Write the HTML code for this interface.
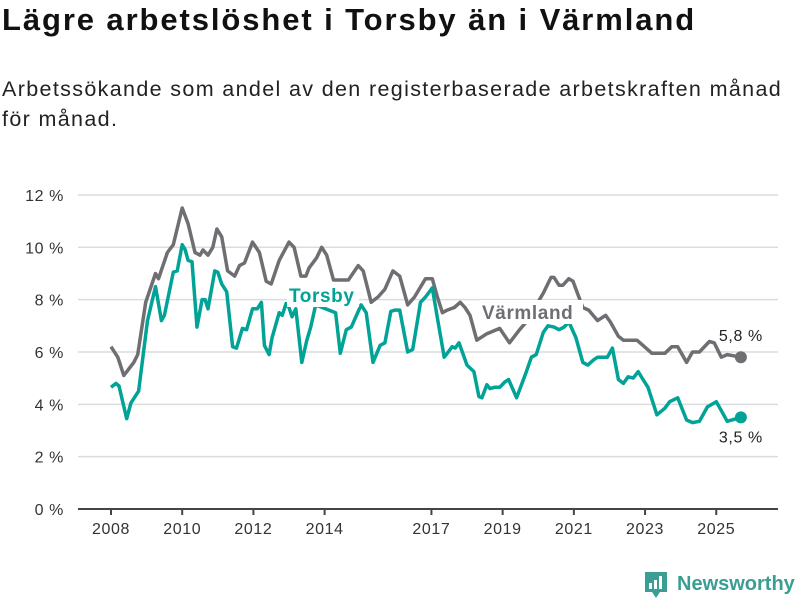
<!DOCTYPE html>
<html><head><meta charset="utf-8">
<style>
body{margin:0;background:#fff;font-family:"Liberation Sans","DejaVu Sans",sans-serif;}
#wrap{position:relative;width:800px;height:600px;overflow:hidden;}
h1{position:absolute;left:2px;top:2px;margin:0;font-size:31px;font-weight:bold;color:#111;letter-spacing:1.9px;white-space:nowrap;}
p.sub{position:absolute;left:2px;top:74px;margin:0;font-size:21.5px;line-height:30px;color:#222;width:798px;letter-spacing:1.35px;white-space:nowrap;}
svg{position:absolute;left:0;top:0;}
</style></head><body>
<div id="wrap">
<h1>Lägre arbetslöshet i Torsby än i Värmland</h1>
<p class="sub">Arbetssökande som andel av den registerbaserade arbetskraften månad<br>för månad.</p>
<svg id="chart" width="800" height="600"></svg>
</div>
<script>
// months since Jan 2008
const varmMonths=[0,2.3,4.3,7.7,9,11.7,15,16,19,21,24,26,28.3,30,31,32.7,34.3,35.7,37.3,39.3,41.7,43.3,45,47.7,50,52.3,54,56.7,60,61.7,64,65.7,66.7,69.3,71,72.7,75,80,83.3,85,87.7,90,92.3,95,97.3,100,102.3,106,108.3,110,111.7,113.3,115.7,117.7,119.3,121,123.3,126.7,131,134.3,137.7,140,145.7,148.3,149.3,151,152.3,154.3,155.7,159,161,164,166.7,168.3,171,172.7,175.7,177.3,179.3,182.3,186.7,189,191,194,196,198.3,201.7,203.3,205.7,207.7,212.3];
const varmValues=[6.2,5.8,5.1,5.6,5.9,7.9,9.0,8.8,9.8,10.1,11.5,10.9,9.8,9.7,9.9,9.7,10.0,10.7,10.4,9.1,8.9,9.3,9.4,10.2,9.8,8.7,8.6,9.5,10.2,10.0,8.9,8.9,9.2,9.6,10.0,9.7,8.75,8.75,9.3,9.1,7.9,8.1,8.4,9.1,8.9,7.8,8.1,8.8,8.8,8.1,7.5,7.6,7.7,7.9,7.7,7.4,6.45,6.7,6.9,6.35,6.85,7.15,8.25,8.85,8.85,8.55,8.55,8.8,8.7,7.7,7.6,7.2,7.4,7.15,6.6,6.45,6.45,6.45,6.25,5.95,5.95,6.2,6.2,5.6,6.0,6.0,6.4,6.35,5.8,5.9,5.8];
const torsMonths=[0,1.7,2.7,5.3,6.7,9.3,12.3,15,17,18,21,22.3,24,25,26,27.3,29,30.7,31.7,32.7,35,36,37.3,39,41,42.3,44.3,45.7,47.7,49.3,50.7,51.7,53.3,54.3,56.7,57.7,59,60,61,62.3,64.3,66,67.3,69,75.7,77.3,79.3,81,84.3,86,88.3,90.7,92.3,94.3,95.7,97.3,100,101.7,104.3,106,108.3,110,112.3,113.3,115,116,117.3,120,122.3,124,125,126.7,127.7,129.3,131,132.7,134,136.7,140,141.7,143.3,145.7,147.3,149.3,151,152.7,154.3,156.7,159,160.7,162.7,164,167.3,169,171,172.7,174.3,176,177.7,179.3,181,184,186.7,188.3,191,194,196,198.3,201,204,206,207.7,212.3];
const torsValues=[4.65,4.8,4.7,3.45,4.05,4.5,7.2,8.5,7.2,7.4,9.05,9.1,10.1,9.9,9.5,9.45,6.95,8.0,8.0,7.65,9.1,9.05,8.6,8.3,6.2,6.15,6.9,6.85,7.65,7.65,7.9,6.25,5.9,6.55,7.5,7.4,7.85,7.7,7.35,7.65,5.6,6.45,6.95,7.8,7.5,5.95,6.85,6.95,7.8,7.5,5.6,6.25,6.35,7.55,7.6,7.6,6.0,6.1,7.9,8.1,8.45,7.3,5.8,5.95,6.2,6.15,6.35,5.5,5.25,4.3,4.25,4.75,4.6,4.65,4.65,4.85,4.95,4.25,5.25,5.8,5.9,6.75,7.0,6.95,6.85,6.95,7.15,6.55,5.6,5.5,5.7,5.8,5.8,6.15,4.95,4.8,5.05,5.0,5.25,4.95,4.65,3.6,3.85,4.1,4.25,3.4,3.3,3.35,3.9,4.1,3.7,3.35,3.5];
const yTicks=[0,2,4,6,8,10,12];
const xTickYears=[2008,2010,2012,2014,2017,2019,2021,2023,2025];

const svg=document.getElementById('chart');
const NS='http://www.w3.org/2000/svg';
const xS=m=>111+m*2.967;
const xYear=y=>xS((y-2008)*12);
const yS=v=>509-v*26.17;
function mk(tag,attrs,parent){const e=document.createElementNS(NS,tag);for(const k in attrs)e.setAttribute(k,attrs[k]);(parent||svg).appendChild(e);return e;}

yTicks.forEach(t=>{
  if(t>0){const g=mk('line',{x1:78,x2:778,y1:yS(t),y2:yS(t),stroke:'#dcdcdc','stroke-width':1.5});
  
  }
  const tx=mk('text',{x:64,y:yS(t)+6,'text-anchor':'end','font-size':16,fill:'#333','letter-spacing':0.6});
  tx.textContent=t+' %';
  
  
});
const ax=mk('line',{x1:78,x2:778,y1:509,y2:509,stroke:'#444','stroke-width':2});


xTickYears.forEach(y=>{
  const x=xYear(y);
  const tk=mk('line',{x1:x,x2:x,y1:509,y2:515,stroke:'#444','stroke-width':2});
  
  
  const tx=mk('text',{x:x,y:534,'text-anchor':'middle','font-size':16,fill:'#333','letter-spacing':0.6});
  tx.textContent=y;
  
  
});
function line(ms,vs,color,name){
  const d=ms.map((m,i)=>(i?'L':'M')+xS(m).toFixed(1)+','+yS(vs[i]).toFixed(1)).join('');
  const p=mk('path',{d:d,fill:'none',stroke:color,'stroke-width':3.5,'stroke-linejoin':'round'});
  
  
  const n=ms.length-1;
  const c=mk('circle',{cx:xS(ms[n]),cy:yS(vs[n]),r:6,fill:color});
  
  
  return [xS(ms[n]),yS(vs[n])];
}
const ve=line(varmMonths,varmValues,'#6f6e73','varmland');
const te=line(torsMonths,torsValues,'#00a396','torsby');
function label(txt,x,y,color,name,bg){
  if(bg){const r=mk('rect',{x:x-2,y:y-19,width:bg,height:24,fill:'#fff'});
    
    }
  const t=mk('text',{x:x,y:y,'font-size':19,'font-weight':'bold',fill:color,'letter-spacing':0.6});
  t.textContent=txt;
  
  
}
label('Torsby',289,302,'#00a396','torsby-label',72);
label('Värmland',482,319,'#6f6e73','varmland-label',103);
const v1=mk('text',{x:ve[0],y:ve[1]-16,'text-anchor':'middle','font-size':16,fill:'#222','letter-spacing':0.6});
v1.textContent=varmValues[varmValues.length-1].toFixed(1).replace('.',',')+' %';


const v2=mk('text',{x:te[0],y:te[1]+25,'text-anchor':'middle','font-size':16,fill:'#222','letter-spacing':0.6});
v2.textContent=torsValues[torsValues.length-1].toFixed(1).replace('.',',')+' %';


// logo
const lg=mk('g',{});


mk('path',{d:'M645,572 h22 v20 h-7 l-4,6 l-4,-6 h-7 z',fill:'#3a9e93'},lg);
mk('rect',{x:649,y:583,width:3,height:6,fill:'#fff'},lg);
mk('rect',{x:654,y:580,width:3,height:9,fill:'#fff'},lg);
mk('rect',{x:659,y:576,width:3,height:13,fill:'#fff'},lg);
const lt=mk('text',{x:677,y:590,'font-size':20,'font-weight':'bold',fill:'#3a9e93'},lg);
lt.textContent='Newsworthy';
</script>
</body></html>
